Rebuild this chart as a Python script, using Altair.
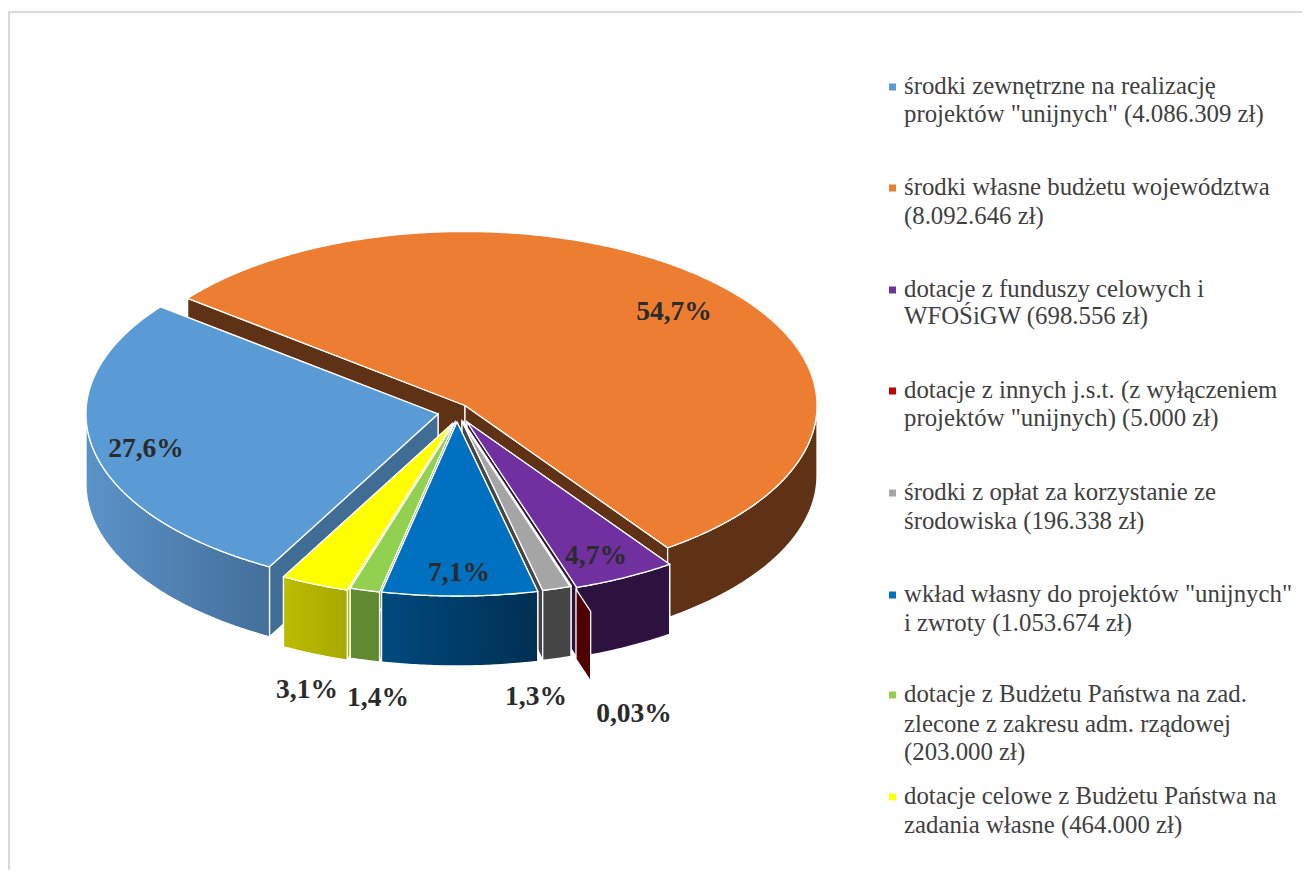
import math
import altair as alt
import pandas as pd

# ---- values ----
names = ["wlasne", "fundusze", "jst", "oplaty", "wklad", "bp_zlec", "bp_cel", "zewn"]
amounts = [8092646, 698556, 5000, 196338, 1053674, 203000, 464000, 4086309]
pct_labels = ["54,7%", "4,7%", "0,03%", "1,3%", "7,1%", "1,4%", "3,1%", "27,6%"]
top_colors = ["#ed7d31", "#7030a0", "#c00000", "#a5a5a5", "#0070c0", "#92d050", "#ffff00", "#5b9bd5"]
legend_keys = ["zewn", "wlasne", "fundusze", "jst", "oplaty", "wklad", "bp_zlec", "bp_cel"]
legend_lines = [
    ["środki zewnętrzne na realizację", 'projektów "unijnych" (4.086.309 zł)'],
    ["środki własne budżetu województwa", "(8.092.646 zł)"],
    ["dotacje z funduszy celowych i", "WFOŚiGW (698.556 zł)"],
    ["dotacje z innych j.s.t. (z wyłączeniem", 'projektów "unijnych) (5.000 zł)'],
    ["środki z opłat za korzystanie ze", "środowiska (196.338 zł)"],
    ['wkład własny do projektów "unijnych"', "i zwroty (1.053.674 zł)"],
    ["dotacje z Budżetu Państwa na zad.", "zlecone z zakresu adm. rządowej", "(203.000 zł)"],
    ["dotacje celowe z Budżetu Państwa na", "zadania własne (464.000 zł)"],
]

# ---- layout and styling ----
OFF = 8
A, B, DEPTH = 352, 174, 70
START = 142.0
apex = {"zewn": (438, 414), "wlasne": (465, 405.5), "fundusze": (467, 422), "jst": (481, 446),
        "oplaty": (462, 421), "wklad": (457, 422), "bp_zlec": (455, 422), "bp_cel": (452, 424)}
cut_color = {"zewn": "#3f6d96", "wlasne": "#5f3215", "fundusze": "#2d1240", "jst": "#4f0000",
             "oplaty": "#454545", "wklad": "#004a7f", "bp_zlec": "#5f8a30", "bp_cel": "#b5b800"}
rim_grad = {"zewn": ("#5b93c9", "#436f9a"), "wlasne": ("#5f3215", "#5f3215"),
            "fundusze": ("#2d1240", "#2d1240"), "jst": ("#4f0000", "#4f0000"),
            "oplaty": ("#454545", "#454545"), "wklad": ("#004a7f", "#002f52"),
            "bp_zlec": ("#5f8a30", "#5f8a30"), "bp_cel": ("#bcbc00", "#a8a800")}
paint_order = ["wlasne", "zewn", "fundusze", "jst", "oplaty", "bp_cel", "bp_zlec", "wklad"]
label_pos = [(674, 312), (596, 556), (634, 714), (536, 697), (459, 573), (378, 698), (307, 690), (146, 449)]
legend_y = [[87, 115], [188, 217], [290, 317], [391, 419], [493, 522], [595, 624], [695, 725, 753], [797, 826]]

PROJ = dict(type="identity", scale=1, translate=[0, 0])
W, H = 1294, 862


def shape(coords, closed=True, **mark):
    if closed:
        geom = {"type": "Polygon", "coordinates": [[[x - OFF, y - OFF] for x, y in coords + coords[:1]]]}
    else:
        geom = {"type": "LineString", "coordinates": [[x - OFF, y - OFF] for x, y in coords]}
    feat = {"type": "Feature", "properties": {}, "geometry": geom}
    return alt.Chart(alt.Data(values=[feat])).mark_geoshape(**mark).project(**PROJ)


def h_grad(c0, c1):
    return alt.Gradient(gradient="linear", x1=0, x2=1, y1=0, y2=0,
                        stops=[alt.GradientStop(color=c0, offset=0), alt.GradientStop(color=c1, offset=1)])


total = sum(amounts)
spans = {}
t = START
for n, v in zip(names, amounts):
    s = 360.0 * v / total
    spans[n] = (t, t - s)
    t -= s


def rim(n, a0, a1, steps=None):
    cx, cy = apex[n]
    steps = steps or max(2, int(abs(a1 - a0) * 2))
    return [(cx + A * math.cos(math.radians(a0 + (a1 - a0) * i / steps)),
             cy - B * math.sin(math.radians(a0 + (a1 - a0) * i / steps))) for i in range(steps + 1)]


layers = []
# frame
layers.append(shape([(9, 879), (9, 12), (1310, 12)], closed=False, filled=False, stroke="#d9d9d9", strokeWidth=2))

SW = 1.3
for n in paint_order:
    a0, a1 = spans[n]
    cx, cy = apex[n]
    c = cut_color[n]
    if n == "jst":
        # only the cut face of this tiny slice shows
        p = rim(n, a0, a0, 1)[0]
        inner = (cx + 0.866 * (p[0] - cx), cy + 0.866 * (p[1] - cy))
        layers.append(shape([inner, p, (p[0], p[1] + DEPTH), (inner[0], inner[1] + DEPTH)],
                            fill=c, stroke="white", strokeWidth=SW))
        continue
    faces = (a1, a0) if n == "zewn" else (a0, a1)
    for ang in faces:
        p = rim(n, ang, ang, 1)[0]
        layers.append(shape([(cx, cy), p, (p[0], p[1] + DEPTH), (cx, cy + DEPTH)],
                            fill=c, stroke="white", strokeWidth=SW))
    lo, hi = min(max(a0, -180), 0), min(max(a1, -180), 0)
    if abs(lo - hi) > 0.01:
        pts = rim(n, lo, hi)
        c0, c1 = rim_grad[n]
        wall = pts + [(x, y + DEPTH) for x, y in reversed(pts)]
        layers.append(shape(wall, fill=h_grad(c0, c1), stroke="white", strokeWidth=SW))
    top = [(cx, cy)] + rim(n, a0, a1)
    layers.append(shape(top, fill=top_colors[names.index(n)], stroke="white", strokeWidth=SW))
    if n == "oplaty":
        layers.append(shape([(cx, cy), rim(n, a0, a0, 1)[0]], closed=False, filled=False,
                            stroke="white", strokeWidth=2.6))

# percentage labels
lab = pd.DataFrame({"x": [p[0] - OFF for p in label_pos], "y": [p[1] - OFF for p in label_pos], "t": pct_labels})
layers.append(alt.Chart(lab).mark_text(font="Liberation Serif", fontWeight="bold", fontSize=27.5, color="#2b2b2b",
                                       align="center", baseline="middle")
              .encode(longitude="x:Q", latitude="y:Q", text="t:N").project(**PROJ))

# legend
leg_rows, sq_rows = [], []
for key, lines, ys in zip(legend_keys, legend_lines, legend_y):
    sq_rows.append({"x": 892.5 - OFF, "y": ys[0] - OFF, "c": top_colors[names.index(key)]})
    for s, y in zip(lines, ys):
        leg_rows.append({"x": 904 - OFF, "y": y - OFF, "t": s})
layers.append(alt.Chart(pd.DataFrame(sq_rows)).mark_square(size=49, opacity=1, strokeWidth=0)
              .encode(longitude="x:Q", latitude="y:Q", color=alt.Color("c:N", scale=None, legend=None))
              .project(**PROJ))
layers.append(alt.Chart(pd.DataFrame(leg_rows)).mark_text(font="Liberation Serif", fontSize=24.8, color="#404040",
                                                          align="left", baseline="middle")
              .encode(longitude="x:Q", latitude="y:Q", text="t:N").project(**PROJ))

chart = alt.layer(*layers).properties(
    width=W, height=H, padding=0, background="white",
    autosize=alt.AutoSizeParams(type="none"),
).configure_view(strokeWidth=0)

chart.save("out.html", embed_options={"renderer": "svg", "actions": False})
